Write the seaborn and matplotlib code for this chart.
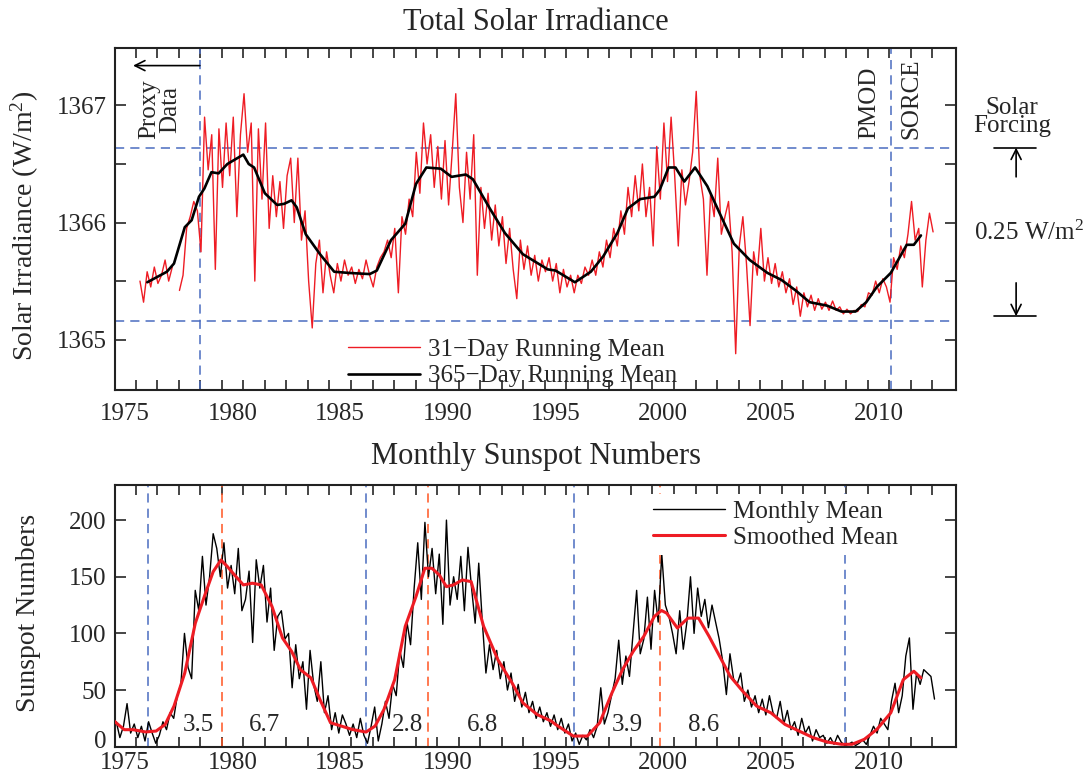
import numpy as np
import pandas as pd
import matplotlib
matplotlib.use("Agg")
import matplotlib.pyplot as plt
from matplotlib.lines import Line2D
from matplotlib.transforms import ScaledTranslation
import seaborn as sns

# ---- Total solar irradiance, 31-day running mean (read every 2 months from 1976.2) ----
tsi31_start = 1976.2
tsi31_values = [
    1365.50, 1365.32, 1365.58, 1365.45, 1365.62, 1365.48,
    1365.55, 1365.68, 1365.50, 1365.62, np.nan, 1365.42,
    1365.55, 1365.95, 1366.05, 1366.18, 1366.10, 1365.75,
    1366.90, 1366.45, 1366.75, 1365.60, 1366.80, 1366.30,
    1366.85, 1366.40, 1366.90, 1366.05, 1366.75, 1367.10,
    1366.60, 1366.85, 1365.50, 1366.80, 1366.20, 1366.85,
    1365.95, 1366.40, 1366.05, 1366.35, 1365.95, 1366.40,
    1366.55, 1366.00, 1366.55, 1365.85, 1366.10, 1365.50,
    1365.10, 1365.65, 1365.85, 1365.40, 1365.75, 1365.55,
    1365.40, 1365.65, 1365.50, 1365.68, 1365.55, 1365.62,
    1365.48, 1365.60, 1365.52, 1365.68, 1365.55, 1365.45,
    1365.62, 1365.70, 1365.75, 1365.85, 1365.70, 1365.95,
    1365.40, 1366.05, 1365.90, 1366.20, 1366.05, 1366.60,
    1366.25, 1366.85, 1366.50, 1366.75, 1366.30, 1366.65,
    1366.20, 1366.70, 1366.15, 1366.60, 1367.10, 1366.30,
    1366.00, 1366.60, 1366.20, 1366.75, 1365.55, 1366.30,
    1365.95, 1366.25, 1365.85, 1366.15, 1365.80, 1366.05,
    1365.65, 1365.95, 1365.60, 1365.35, 1365.85, 1365.60,
    1365.80, 1365.55, 1365.72, 1365.50, 1365.68, 1365.58,
    1365.70, 1365.50, 1365.65, 1365.40, 1365.60, 1365.45,
    1365.55, 1365.40, 1365.55, 1365.48, 1365.62, 1365.55,
    1365.68, 1365.55, 1365.75, 1365.62, 1365.85, 1365.70,
    1365.95, 1365.80, 1366.10, 1365.90, 1366.30, 1366.05,
    1366.40, 1366.10, 1366.50, 1366.05, 1366.30, 1365.80,
    1366.65, 1366.20, 1366.85, 1366.35, 1366.90, 1366.40,
    1365.80, 1366.45, 1366.15, 1366.35, 1366.60, 1367.12,
    1366.40, 1366.20, 1365.55, 1366.25, 1366.05, 1366.55,
    1365.90, 1366.05, 1366.18, 1365.75, 1364.88, 1365.80,
    1366.05, 1365.65, 1365.12, 1365.75, 1365.55, 1365.95,
    1365.50, 1365.70, 1365.48, 1365.65, 1365.45, 1365.58,
    1365.40, 1365.52, 1365.30, 1365.45, 1365.20, 1365.40,
    1365.28, 1365.38, 1365.25, 1365.35, 1365.26, 1365.32,
    1365.25, 1365.33, 1365.25, 1365.28, 1365.22, 1365.26,
    1365.22, 1365.25, 1365.24, 1365.30, 1365.28, 1365.40,
    1365.38, 1365.50, 1365.40, 1365.52, 1365.45, 1365.32,
    1365.70, 1365.60, 1365.80, 1365.70, 1365.90, 1366.18,
    1365.85, 1365.95, 1365.45, 1365.85, 1366.08, 1365.92,
]

# ---- 365-day running mean ----
tsi365_years = [
    1976.54, 1977.45, 1977.78, 1978.28, 1978.60, 1978.94, 1979.19, 1979.52, 1979.85, 1980.26,
    1981.00, 1981.25, 1981.50, 1982.00, 1982.57, 1982.90, 1983.24, 1983.48, 1983.90, 1984.56,
    1985.22, 1985.88, 1986.87, 1987.20, 1987.86, 1988.52, 1989.02, 1989.50, 1990.17, 1990.67,
    1991.33, 1991.66, 1992.48, 1993.15, 1993.98, 1995.14, 1995.50, 1996.40, 1997.14, 1997.71,
    1998.37, 1998.86, 1999.43, 2000.09, 2000.34, 2000.75, 2001.07, 2001.48, 2001.98, 2002.55,
    2003.12, 2003.78, 2004.52, 2005.34, 2005.99, 2006.65, 2007.30, 2008.12, 2008.78, 2009.43,
    2009.93, 2010.42, 2011.07, 2011.81, 2012.14, 2012.47,
]
tsi365_values = [
    1365.49, 1365.58, 1365.65, 1365.96, 1366.02, 1366.22, 1366.29, 1366.43, 1366.42, 1366.50,
    1366.58, 1366.50, 1366.47, 1366.25, 1366.15, 1366.16, 1366.19, 1366.13, 1365.90, 1365.73,
    1365.58, 1365.57, 1365.56, 1365.59, 1365.85, 1365.99, 1366.33, 1366.47, 1366.46, 1366.39,
    1366.41, 1366.37, 1366.11, 1365.91, 1365.73, 1365.60, 1365.59, 1365.49, 1365.58, 1365.71,
    1365.91, 1366.12, 1366.20, 1366.22, 1366.28, 1366.47, 1366.47, 1366.35, 1366.47, 1366.31,
    1366.08, 1365.82, 1365.68, 1365.57, 1365.51, 1365.42, 1365.32, 1365.29, 1365.24, 1365.24,
    1365.32, 1365.45, 1365.57, 1365.81, 1365.81, 1365.89,
]

# ---- Monthly sunspot numbers (read every 2 months from 1975.1) ----
ssn_start = 1975.1
ssn_monthly = [
    22, 8, 18, 38, 12, 20,
    8, 18, 5, 22, 12, 3,
    10, 22, 15, 30, 25, 45,
    55, 100, 70, 60, 138, 120,
    168, 125, 150, 188, 175, 150,
    180, 140, 160, 135, 175, 120,
    130, 155, 92, 165, 140, 160,
    110, 140, 85, 115, 120, 95,
    100, 52, 90, 60, 75, 33,
    85, 55, 40, 75, 30, 45,
    15, 30, 12, 28, 20, 10,
    20, 8, 25, 10, 3, 18,
    35, 5, 20, 40, 25, 55,
    45, 85, 70, 110, 90, 140,
    180, 130, 198, 150, 175, 135,
    170, 108, 200, 125, 150, 130,
    168, 120, 176, 140, 109, 162,
    110, 65, 90, 68, 85, 60,
    75, 50, 65, 40, 55, 35,
    48, 30, 40, 25, 35, 22,
    30, 18, 28, 15, 25, 12,
    20, 5, 12, 2, 10, 6,
    15, 8, 18, 52, 20, 30,
    45, 60, 94, 55, 80, 62,
    100, 138, 82, 95, 132, 86,
    138, 110, 170, 125, 115, 100,
    82, 120, 86, 110, 150, 100,
    140, 115, 130, 105, 125, 110,
    95, 75, 46, 82, 60, 55,
    65, 40, 50, 35, 45, 30,
    42, 28, 45, 30, 25, 40,
    20, 32, 15, 22, 10, 25,
    12, 18, 5, 15, 8, 10,
    3, 8, 2, 10, 4, 1,
    2, 4, 1, 3, 6, 2,
    10, 18, 12, 25, 20, 15,
    40, 56, 30, 45, 80, 96,
    33, 65, 55, 68, 65, 62,
    42,
]

ssn_smooth_years = [
    1975.00, 1975.47, 1975.88, 1976.46, 1976.95, 1977.37, 1977.78, 1978.28, 1978.77, 1979.19,
    1979.60, 1979.96, 1980.26, 1980.59, 1981.00, 1981.42, 1981.83, 1982.33, 1982.82, 1983.24,
    1983.65, 1984.14, 1984.56, 1985.05, 1985.55, 1986.05, 1986.70, 1987.12, 1987.53, 1988.03,
    1988.52, 1989.02, 1989.43, 1989.76, 1990.10, 1990.43, 1990.76, 1991.17, 1991.58, 1992.16,
    1992.82, 1993.48, 1993.98, 1994.64, 1995.30, 1995.50, 1996.32, 1996.98, 1997.55, 1998.12,
    1998.61, 1999.11, 1999.60, 2000.09, 2000.42, 2000.66, 2001.16, 2001.65, 2002.14, 2002.63,
    2003.12, 2003.61, 2004.19, 2004.84, 2005.50, 2006.16, 2006.81, 2007.47, 2008.12, 2008.78,
    2009.27, 2009.84, 2010.42, 2011.07, 2011.65, 2012.14, 2012.47,
]
ssn_smooth = [
    22.6, 15, 15, 13, 13.8, 19.6, 35.8, 65, 109, 132.6,
    154.5, 164.8, 159, 151.6, 142.8, 144.3, 142.8, 123.8, 95.9, 84.2,
    68, 60.7, 41.6, 21.1, 18.2, 15.2, 12.9, 18.2, 32.8, 59.2,
    106.2, 132.6, 157.5, 157.5, 151.6, 141.3, 142.8, 147.2, 145.7, 106.2,
    76.8, 56.3, 38.7, 28.4, 22.6, 19.6, 9.4, 9.4, 21.1, 47.5,
    68, 84.2, 97.4, 115, 120.2, 117.9, 104.7, 113.5, 113.5, 97.4,
    79.8, 62.2, 49, 35.8, 29.9, 19.6, 13.8, 7.9, 4.1, 2.1,
    2.1, 6.5, 15.2, 29.9, 59.2, 66.6, 60.7,
]

# ---- markers / annotations ----
proxy_end = 1978.98
pmod_sorce_split = 2011.08
forcing_band = [1365.16, 1366.64]
cycle_minima = [1976.58, 1986.70, 1996.37, 2008.95]
cycle_maxima = [1979.99, 1989.57, 2000.33]
phase_lengths = ["3.5", "6.7", "2.8", "6.8", "3.9", "8.6"]
phase_label_x = [1978.93, 1981.97, 1988.61, 1992.11, 1998.85, 2002.40]
year_labels = [1975, 1980, 1985, 1990, 1995, 2000, 2005, 2010]

RED = "#ee1c24"
BLUE = "#4a6cc0"
ORANGE = "#ff5522"

sns.set_style("ticks")
plt.rcParams["font.family"] = ["Liberation Serif", "DejaVu Serif"]
plt.rcParams["mathtext.fontset"] = "custom"
plt.rcParams["mathtext.rm"] = "Liberation Serif"
plt.rcParams["mathtext.it"] = "Liberation Serif:italic"
plt.rcParams["axes.linewidth"] = 1.5
plt.rcParams["axes.edgecolor"] = "#222222"

fig = plt.figure(figsize=(10.91, 7.76), dpi=100)
ax1 = fig.add_axes([0.1054, 0.4974, 0.7709, 0.4407])
ax2 = fig.add_axes([0.1054, 0.0378, 0.7709, 0.3372])

# data frames
tsi31 = pd.DataFrame({"year": tsi31_start + np.arange(len(tsi31_values)) / 6.0,
                      "tsi": tsi31_values})
tsi31["seg"] = tsi31["tsi"].isna().cumsum()
tsi31 = tsi31.dropna()
tsi365 = pd.DataFrame({"year": tsi365_years, "tsi": tsi365_values})
ssn_m = pd.DataFrame({"year": ssn_start + np.arange(len(ssn_monthly)) / 6.0,
                      "ssn": ssn_monthly})
ssn_s = pd.DataFrame({"year": ssn_smooth_years, "ssn": ssn_smooth})


def style_axis(ax, xlab_pad):
    ax.set_xlim(1975.04, 2014.1)
    ax.set_xticks([y + 0.5 for y in year_labels])
    ax.set_xticklabels([str(y) for y in year_labels])
    ax.set_xticks(np.arange(1976, 2014), minor=True)
    ax.tick_params(axis="x", which="major", length=0, labelsize=18, pad=xlab_pad)
    ax.tick_params(axis="x", which="minor", direction="in", length=7, width=1.2,
                   top=True, bottom=True)
    ax.tick_params(axis="y", which="both", direction="in", length=8, width=1.2,
                   left=True, right=True, labelsize=18, pad=6)
    ax.set_xlabel("")
    for s in ax.spines.values():
        s.set_visible(True)


# ---------------- top panel ----------------
for yv in forcing_band:
    ax1.axhline(yv, color=BLUE, lw=1.1, ls=(0, (6, 4)), zorder=1)
ax1.axvline(proxy_end, color=BLUE, lw=1.1, ls=(0, (6, 4)), zorder=1)
ax1.axvline(pmod_sorce_split, color=BLUE, lw=1.1, ls=(0, (6, 4)), zorder=1)

sns.lineplot(data=tsi31, x="year", y="tsi", units="seg", estimator=None,
             color=RED, lw=1.0, ax=ax1, zorder=2)
sns.lineplot(data=tsi365, x="year", y="tsi", estimator=None,
             color="black", lw=1.9, ax=ax1, zorder=3)

ax1.set_ylim(1364.57, 1367.49)
ax1.set_yticks([1365, 1366, 1367])
ax1.set_yticks([1365.5, 1366.5], minor=True)
style_axis(ax1, 9)
ax1.set_ylabel("Solar Irradiance (W/m$^2$)", fontsize=20)
ax1.yaxis.set_label_coords(-0.088, 0.48)

h1 = [Line2D([], [], color=RED, lw=1.0), Line2D([], [], color="black", lw=1.9)]
ax1.legend(h1, ["31\u2212Day Running Mean", "365\u2212Day Running Mean"],
           loc="lower left", bbox_to_anchor=(0.277, 0.008), frameon=False,
           fontsize=18, handlelength=2.9, handletextpad=0.3, labelspacing=0.15,
           borderpad=0, borderaxespad=0)

ax1.text(1977.1, 1366.71, "Proxy\nData", rotation=90, ha="center", va="bottom",
         fontsize=18, linespacing=0.95)
ax1.annotate("", xy=(1975.88, 1367.34), xytext=(proxy_end, 1367.34),
             arrowprops=dict(arrowstyle="->", lw=1.2, color="black", mutation_scale=18,
                             shrinkA=0, shrinkB=0))
ax1.text(2010.07, 1366.71, "PMOD", rotation=90, ha="center", va="bottom", fontsize=18)
ax1.text(2012.02, 1366.71, "SORCE", rotation=90, ha="center", va="bottom", fontsize=18)

# solar forcing bracket outside the frame
ax1.text(2016.7, 1366.90, "Solar\nForcing", ha="center", va="center", fontsize=18,
         linespacing=0.8, clip_on=False)
ax1.plot([2015.87, 2017.82], [forcing_band[1]] * 2, color="black", lw=1.2, clip_on=False)
ax1.plot([2015.87, 2017.82], [1365.20] * 2, color="black", lw=1.2, clip_on=False)
ax1.annotate("", xy=(2016.89, forcing_band[1]), xytext=(2016.89, 1366.39),
             arrowprops=dict(arrowstyle="->", lw=1.2, color="black", mutation_scale=18,
                             shrinkA=0, shrinkB=0), annotation_clip=False)
ax1.annotate("", xy=(2016.89, 1365.20), xytext=(2016.89, 1365.485),
             arrowprops=dict(arrowstyle="->", lw=1.2, color="black", mutation_scale=18,
                             shrinkA=0, shrinkB=0), annotation_clip=False)
ax1.text(2017.5, 1365.91, "0.25 W/m$^2$", ha="center", va="center", fontsize=18,
         clip_on=False)

# ---------------- bottom panel ----------------
for xv in cycle_minima:
    ax2.axvline(xv, color=BLUE, lw=1.1, ls=(0, (6, 4)), zorder=1)
for xv in cycle_maxima:
    ax2.axvline(xv, color=ORANGE, lw=1.1, ls=(0, (6, 4)), zorder=1)

sns.lineplot(data=ssn_m, x="year", y="ssn", estimator=None, color="black", lw=1.0,
             ax=ax2, zorder=2)
sns.lineplot(data=ssn_s, x="year", y="ssn", estimator=None, color=RED, lw=2.2,
             ax=ax2, zorder=3)

ax2.set_ylim(0, 231)
ax2.set_yticks([0, 50, 100, 150, 200])
style_axis(ax2, 4)
ax2.set_ylabel("Sunspot Numbers", fontsize=20)
ax2.yaxis.set_label_coords(-0.088, 0.51)

# lift the "0" label a little so it clears the year labels below
for lbl in ax2.get_yticklabels():
    if lbl.get_text() == "0":
        lbl.set_transform(lbl.get_transform() + ScaledTranslation(0, 5 / 72, fig.dpi_scale_trans))

for txt, xv in zip(phase_lengths, phase_label_x):
    ax2.text(xv, 19, txt, ha="center", va="center", fontsize=18)

h2 = [Line2D([], [], color="black", lw=1.0), Line2D([], [], color=RED, lw=2.2)]
leg = ax2.legend(h2, ["Monthly Mean", "Smoothed Mean"], loc="upper left",
                 bbox_to_anchor=(0.632, 0.965), frameon=True, fontsize=18,
                 handlelength=2.9, handletextpad=0.3, labelspacing=0.15,
                 borderpad=0.25, borderaxespad=0, fancybox=False)
leg.get_frame().set_facecolor("white")
leg.get_frame().set_edgecolor("none")
leg.get_frame().set_alpha(1.0)
leg.set_zorder(5)

fig.text(0.4909, 1 - 22 / 776, "Total Solar Irradiance", ha="center", va="center",
         fontsize=22)
fig.text(0.4909, 1 - 456 / 776, "Monthly Sunspot Numbers", ha="center", va="center",
         fontsize=22)

fig.savefig("out.png", dpi=100, facecolor="white")
